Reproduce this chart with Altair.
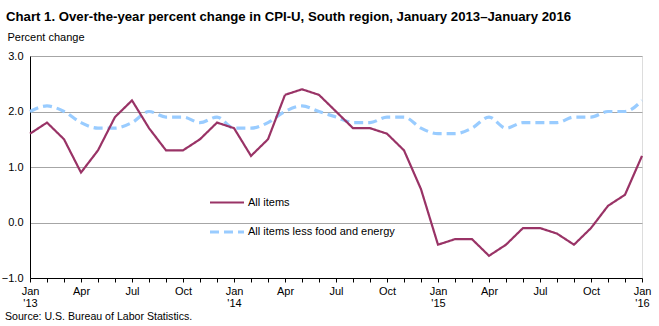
import altair as alt
import pandas as pd
import json

months = [f"{y}-{m:02d}" for y in (2013, 2014, 2015) for m in range(1, 13)] + ["2016-01"]

all_items = [1.6, 1.8, 1.5, 0.9, 1.3, 1.9, 2.2, 1.7, 1.3, 1.3, 1.5, 1.8,
             1.7, 1.2, 1.5, 2.3, 2.4, 2.3, 2.0, 1.7, 1.7, 1.6, 1.3, 0.6,
             -0.4, -0.3, -0.3, -0.6, -0.4, -0.1, -0.1, -0.2, -0.4, -0.1, 0.3, 0.5,
             1.2]
core = [2.0, 2.1, 2.0, 1.8, 1.7, 1.7, 1.8, 2.0, 1.9, 1.9, 1.8, 1.9,
        1.7, 1.7, 1.8, 2.0, 2.1, 2.0, 1.9, 1.8, 1.8, 1.9, 1.9, 1.7,
        1.6, 1.6, 1.7, 1.9, 1.7, 1.8, 1.8, 1.8, 1.9, 1.9, 2.0, 2.0,
        2.2]

series_names = ["All items", "All items less food and energy"]
series_colors = ["#993366", "#99CCFF"]

tick_labels = []
for i, mth in enumerate(months):
    y, m = mth.split("-")
    m = int(m)
    if m == 1:
        tick_labels.append(["Jan", "'" + y[2:]])
    elif m in (4, 7, 10):
        tick_labels.append([{4: "Apr", 7: "Jul", 10: "Oct"}[m]])
    else:
        tick_labels.append([""])

title_text = "Chart 1. Over-the-year percent change in CPI-U, South region, January 2013\u2013January 2016"
source_text = "Source: U.S. Bureau of Labor Statistics."

rows = []
for i, mth in enumerate(months):
    rows.append({"idx": i, "month": mth, "value": all_items[i], "series": series_names[0]})
for i, mth in enumerate(months):
    rows.append({"idx": i, "month": mth, "value": core[i], "series": series_names[1]})
df = pd.DataFrame(rows)

FONT = "Liberation Sans"
W, H = 612, 222

x_enc = alt.X("idx:Q",
              scale=alt.Scale(domain=[0, len(months) - 1], nice=False, zero=False),
              axis=alt.Axis(values=list(range(len(months))),
                            labelExpr=json.dumps(tick_labels) + "[datum.value]",
                            title=None, grid=False, domainColor="black", tickColor="black",
                            tickSize=4, labelFont=FONT, labelFontSize=11, labelColor="black",
                            labelPadding=3, labelLineHeight=12, labelFlush=False,
                            labelOverlap=False, domainWidth=1, tickWidth=1))
y_enc = alt.Y("value:Q",
              scale=alt.Scale(domain=[-1, 3], nice=False),
              axis=alt.Axis(values=[-1, 0, 1, 2, 3], format=".1f", title="Percent change",
                            titleAngle=0, titleAlign="left", titleBaseline="alphabetic",
                            titleX=-23, titleY=-16, titleFont=FONT, titleFontSize=11,
                            titleFontWeight="normal", titleColor="black",
                            labelFont=FONT, labelFontSize=11, labelColor="black",
                            ticks=False, labelPadding=7, domainColor="black",
                            gridColor="#a6a6a6", gridWidth=1))

color_enc = alt.Color("series:N", scale=alt.Scale(domain=series_names, range=series_colors),
                      legend=alt.Legend(title=None, orient="none", legendX=178, legendY=128,
                                        symbolType="stroke", symbolSize=1156,
                                        labelFont=FONT, labelFontSize=11, labelColor="black",
                                        labelOffset=2, rowPadding=5, padding=0))
dash_enc = alt.StrokeDash("series:N", scale=alt.Scale(domain=series_names, range=[[1, 0], [9, 5]]),
                          legend=None)
width_enc = alt.StrokeWidth("series:N", scale=alt.Scale(domain=series_names, range=[2.2, 3.2]),
                            legend=None)

base = alt.Chart(df)
line_all = base.transform_filter(alt.datum.series == series_names[0]).mark_line(
    interpolate="linear").encode(x=x_enc, y=y_enc, color=color_enc, strokeDash=dash_enc,
                                 strokeWidth=width_enc)
line_core = base.transform_filter(alt.datum.series == series_names[1]).mark_line(
    interpolate="monotone").encode(x=x_enc, y=y_enc, color=color_enc, strokeDash=dash_enc,
                                   strokeWidth=width_enc)

title_mark = alt.Chart(pd.DataFrame({"t": [title_text]})).mark_text(
    align="left", baseline="alphabetic", font=FONT, fontSize=13.2, fontWeight="bold", color="black"
).encode(x=alt.value(-24), y=alt.value(-35), text="t:N")

source_mark = alt.Chart(pd.DataFrame({"t": [source_text]})).mark_text(
    align="left", baseline="alphabetic", font=FONT, fontSize=10.6, color="black"
).encode(x=alt.value(-25), y=alt.value(H + 41.5), text="t:N")

chart = alt.layer(line_core, line_all, title_mark, source_mark).properties(
    width=W, height=H,
    autosize=alt.AutoSizeParams(type="none"),
    padding={"left": 30, "top": 56, "right": 17, "bottom": 48},
).configure_view(stroke="#a6a6a6", strokeWidth=1).configure(background="white")

chart.save("out.html", embed_options={"renderer": "svg", "actions": False})
